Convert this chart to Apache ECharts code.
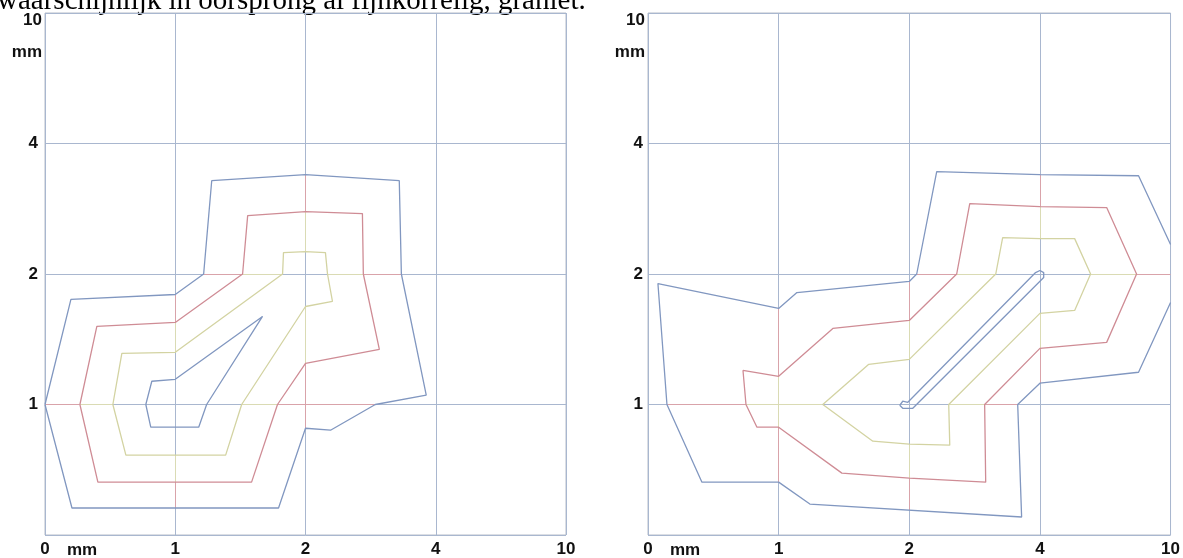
<!DOCTYPE html>
<html>
<head>
<meta charset="utf-8">
<script src="https://cdn.jsdelivr.net/npm/echarts@6/dist/echarts.min.js"></script>
<style>
html,body{margin:0;padding:0;background:#fff;}
#c{width:1183px;height:558px;}
</style>
</head>
<body>
<div id="c"></div>
<script>
// ---- data (axis positions: 0..4 map to tick labels 0,1,2,4,10 mm) ----
const xTickLabels = ['0', '1', '2', '4', '10'];
const yTickLabels = ['0', '1', '2', '4', '10'];
const titleText = 'waarschijnlijk in oorsprong al fijnkorrelig, graniet.';
const unitLabel = 'mm';

// left panel contours
const leftOuter = [[0,1.0],[0.207,0.207],[1.793,0.207],[2.0,0.818],[2.192,0.803],[2.536,1.0],[2.927,1.071],[2.736,2.0],[2.72,2.715],[2.0,2.761],[1.28,2.715],[1.218,2.0],[1.0,1.843],[0.199,1.805],[0,1.0]];
const leftRed = [[0.268,1.0],[0.406,0.405],[1.586,0.405],[1.785,1.0],[2.0,1.315],[2.567,1.423],[2.444,2.0],[2.437,2.463],[2.0,2.478],[1.556,2.447],[1.517,2.0],[1.0,1.629],[0.398,1.598],[0.268,1.0]];
const leftYellow = [[0.521,1.0],[0.621,0.612],[1.387,0.612],[1.51,1.0],[2.0,1.751],[2.207,1.79],[2.169,2.0],[2.153,2.164],[2.0,2.172],[1.831,2.164],[1.824,2.0],[1.0,1.4],[0.59,1.392],[0.521,1.0]];
const leftInner = [[0.774,1.0],[0.812,0.826],[1.18,0.826],[1.241,1.0],[1.67,1.675],[1.0,1.193],[0.82,1.178],[0.774,1.0]];

// right panel contours
const rightOuter = [[4.0,2.226],[3.755,2.753],[3.0,2.761],[2.21,2.784],[2.057,2.0],[2.0,1.943],[1.14,1.858],[1.0,1.736],[0.076,1.927],[0.145,1.0],[0.413,0.405],[1.0,0.405],[1.239,0.237],[2.86,0.138],[2.83,1.0],[3.0,1.163],[3.755,1.247],[4.0,1.782]];
const rightRed = [[0.727,1.262],[1.0,1.216],[1.415,1.583],[2.0,1.644],[2.363,2.0],[2.463,2.539],[3.0,2.516],[3.511,2.509],[3.74,2.0],[3.511,1.476],[3.0,1.43],[2.577,1.0],[2.585,0.405],[2.0,0.436],[1.484,0.474],[1.0,0.826],[0.834,0.826],[0.75,1.0],[0.727,1.262]];
const rightYellow = [[1.338,1.0],[1.69,1.308],[2.0,1.346],[2.662,2.0],[2.715,2.279],[3.0,2.271],[3.266,2.271],[3.388,2.0],[3.266,1.721],[3.0,1.698],[2.302,1.0],[2.31,0.688],[2.0,0.696],[1.721,0.719],[1.338,1.0]];
const rightInner = [[1.927,0.994],[1.95,1.025],[1.989,1.017],[2.967,2.011],[3.0,2.027],[3.029,2.011],[3.029,1.973],[2.027,0.971],[1.95,0.971],[1.927,0.994]];

// ---- styles / layout ----
const C_BLUE = '#8197c0';
const C_RED = '#cf8c95';
const C_YELLOW = '#d3d3a2';
const C_GRID = '#a9b7cf';
const C_FRAME = '#b7bdc8';
const T_RED = '#d9a3aa';
const T_YELLOW = '#dadbb4';
const LABEL_FONT = 'bold 17px "Liberation Sans", Arial, sans-serif';

const panels = [
  { left: 45, top: 13, width: 521, height: 523, outer: leftOuter, red: leftRed, yellow: leftYellow, inner: leftInner },
  { left: 648, top: 13, width: 523, height: 523, outer: rightOuter, red: rightRed, yellow: rightYellow, inner: rightInner }
];

function inside(pt, poly) {
  let c = false;
  for (let i = 0, j = poly.length - 1; i < poly.length; j = i++) {
    const xi = poly[i][0], yi = poly[i][1], xj = poly[j][0], yj = poly[j][1];
    if (((yi > pt[1]) !== (yj > pt[1])) && (pt[0] < (xj - xi) * (pt[1] - yi) / (yj - yi) + xi)) c = !c;
  }
  return c;
}
function classify(pt, p) {
  if (inside(pt, p.yellow)) return null;
  if (inside(pt, p.red)) return 'y';
  if (inside(pt, p.outer)) return 'r';
  return null;
}
// tinted gridline segments inside the contour bands, derived from the contours
function tintSegments(p) {
  const segs = { r: [], y: [] };
  const step = 0.002;
  const lines = [];
  [1, 2, 3].forEach(k => {
    lines.push(t => [k, t]);
    lines.push(t => [t, k]);
  });
  lines.forEach(f => {
    let cur = null, start = null, last = null;
    for (let t = 0; t <= 4.0001; t += step) {
      const pt = f(t);
      const c = classify(pt, p);
      if (c !== cur) {
        if (cur) segs[cur].push({ coords: [start, last] });
        cur = c; start = pt;
      }
      last = pt;
    }
    if (cur) segs[cur].push({ coords: [start, last] });
  });
  return segs;
}

const grids = [], xAxes = [], yAxes = [], series = [], graphics = [];
panels.forEach((p, i) => {
  grids.push({ left: p.left, top: p.top, width: p.width, height: p.height, show: true, borderColor: C_FRAME, borderWidth: 1, backgroundColor: 'transparent' });
  xAxes.push({
    gridIndex: i, type: 'value', min: 0, max: 4, interval: 1,
    axisLine: { show: false }, axisTick: { show: false },
    splitLine: { show: true, lineStyle: { color: C_GRID, width: 1 } },
    axisLabel: { show: true, margin: 6, color: '#111', fontSize: 17, fontWeight: 'bold', fontFamily: '"Liberation Sans", Arial, sans-serif',
      formatter: v => xTickLabels[Math.round(v)] }
  });
  yAxes.push({
    gridIndex: i, type: 'value', min: 0, max: 4, interval: 1,
    axisLine: { show: false }, axisTick: { show: false },
    splitLine: { show: true, lineStyle: { color: C_GRID, width: 1 } },
    axisLabel: { show: true, margin: i === 0 ? 7 : 5, color: '#111', fontSize: 17, fontWeight: 'bold', fontFamily: '"Liberation Sans", Arial, sans-serif',
      formatter: v => (v === 0 || v === 4) ? '' : yTickLabels[Math.round(v)] }
  });
  const segs = tintSegments(p);
  series.push({ type: 'lines', coordinateSystem: 'cartesian2d', xAxisIndex: i, yAxisIndex: i, silent: true, z: 1,
    lineStyle: { color: T_RED, width: 1, opacity: 1 }, data: segs.r });
  series.push({ type: 'lines', coordinateSystem: 'cartesian2d', xAxisIndex: i, yAxisIndex: i, silent: true, z: 1,
    lineStyle: { color: T_YELLOW, width: 1, opacity: 1 }, data: segs.y });
  [[p.outer, C_BLUE], [p.red, C_RED], [p.yellow, C_YELLOW], [p.inner, C_BLUE]].forEach(([d, col]) => {
    series.push({ type: 'line', xAxisIndex: i, yAxisIndex: i, data: d, showSymbol: false, symbol: 'none', silent: true, z: 3,
      lineStyle: { color: col, width: 1.3 }, animation: false });
  });
  graphics.push({ type: 'text', x: p.left - 3, y: 20, style: { text: yTickLabels[4], font: LABEL_FONT, fill: '#111', align: 'right', verticalAlign: 'middle' } });
  graphics.push({ type: 'text', x: p.left - 3, y: 52, style: { text: unitLabel, font: LABEL_FONT, fill: '#111', align: 'right', verticalAlign: 'middle' } });
  graphics.push({ type: 'text', x: p.left + 37, y: p.top + p.height + 14, style: { text: unitLabel, font: LABEL_FONT, fill: '#111', align: 'center', verticalAlign: 'middle' } });
});
graphics.push({ type: 'text', x: -3, y: 16, style: { text: titleText, font: '29px "Liberation Serif", "Times New Roman", serif', fill: '#000', align: 'left', verticalAlign: 'bottom' } });

const chart = echarts.init(document.getElementById('c'), null, { renderer: 'canvas' });
chart.setOption({
  animation: false,
  backgroundColor: '#fff',
  grid: grids, xAxis: xAxes, yAxis: yAxes, series: series, graphic: graphics
});
</script>
</body>
</html>
